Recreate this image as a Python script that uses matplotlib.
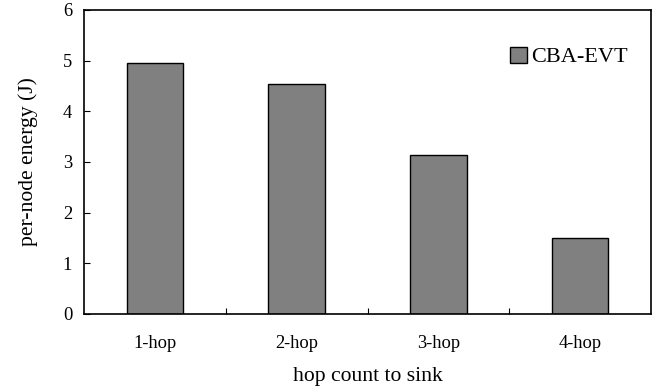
import matplotlib
matplotlib.use("Agg")
import matplotlib.pyplot as plt
import numpy as np

categories = ["1-hop", "2-hop", "3-hop", "4-hop"]
values = [4.95, 4.54, 3.13, 1.50]
series_name = "CBA-EVT"
y_ticks = [0, 1, 2, 3, 4, 5, 6]

plt.rcParams['font.family'] = ['Liberation Serif', 'DejaVu Serif']

fig = plt.figure(figsize=(6.61, 3.89), dpi=100)
ax = fig.add_axes([84/661, 1-314/389, (651-84)/661, (314-10)/389])

x = np.arange(len(categories))
ax.bar(x, values, width=0.4, color='#808080', edgecolor='black', linewidth=1.0, label=series_name)

ax.set_xlim(-0.5, len(categories)-0.5)
ax.set_ylim(0, 6)
ax.set_yticks(y_ticks)
ax.set_yticklabels([str(t) for t in y_ticks], fontsize=13.3)
ax.set_xticks(x)
ax.set_xticklabels(categories, fontsize=13.3)
ax.tick_params(axis='x', length=0, pad=15)
ax.set_xticks(x[:-1] + 0.5, minor=True)
ax.tick_params(axis='x', which='minor', direction='in', length=4, width=0.8)
ax.tick_params(axis='y', direction='in', length=4, width=0.8, pad=8.5)

for s in ax.spines.values():
    s.set_linewidth(1.2)

ax.set_xlabel("hop count to sink", fontsize=15.6, labelpad=11)
ax.set_ylabel("per-node energy (J)", fontsize=15.6, labelpad=18)

leg = ax.legend(loc='center left', bbox_to_anchor=(510/661, 1-57/389), bbox_transform=fig.transFigure,
                frameon=False, fontsize=16, handlelength=0.75, handleheight=0.75, handletextpad=0.2,
                borderpad=0, borderaxespad=0)

fig.savefig("out.png", dpi=100)
